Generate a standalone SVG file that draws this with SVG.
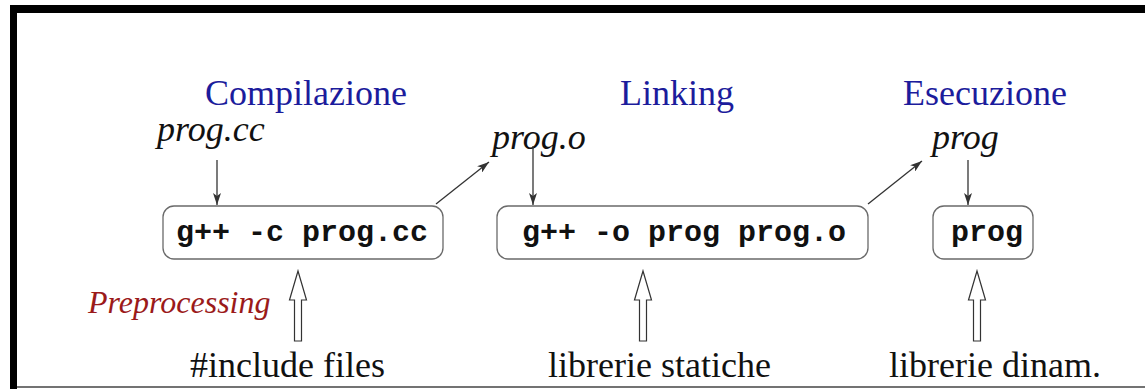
<svg xmlns="http://www.w3.org/2000/svg" width="1145" height="389" viewBox="0 0 1145 389">
<style>
.title{font-family:"Liberation Serif",serif;font-size:36px;fill:#1c1c9c}
.file{font-family:"Liberation Serif",serif;font-style:italic;font-size:36px;fill:#111}
.cmd{font-family:"Liberation Mono",monospace;font-weight:bold;font-size:30px;fill:#111}
.lbl{font-family:"Liberation Serif",serif;font-size:36px;fill:#111}
.pre{font-family:"Liberation Serif",serif;font-style:italic;font-size:32px;fill:#9b1a1a}
.box{fill:#fff;stroke:#6a6a6a;stroke-width:1.3}
.thin{stroke:#333;stroke-width:1.3;fill:none;marker-end:url(#ah)}
.hollow{fill:#fff;stroke:#333;stroke-width:1.2}
</style>
<defs>
<marker id="ah" viewBox="0 0 12 8" refX="12" refY="4" markerWidth="12" markerHeight="8" markerUnits="userSpaceOnUse" orient="auto">
<path d="M0,0 L12,4 L0,8 L3,4 Z" fill="#333"/>
</marker>
</defs>
<rect width="1145" height="389" fill="#fff"/>
<g id="frame">
<rect x="10" y="5" width="1135" height="8" fill="#000"/>
<rect x="10" y="5" width="7" height="384" fill="#000"/>
<line x1="17" y1="387" x2="1145" y2="387" stroke="#444" stroke-width="1.5"/>
</g>
<g id="titles">
<text class="title" x="205" y="105">Compilazione</text>
<text class="title" x="620" y="105">Linking</text>
<text class="title" x="903" y="105">Esecuzione</text>
</g>
<g id="file-prog-cc"><text class="file" x="157" y="141">prog.cc</text></g>
<g id="file-prog-o"><text class="file" x="492" y="149">prog.o</text></g>
<g id="file-prog"><text class="file" x="932" y="149">prog</text></g>
<g id="box-compile">
<rect class="box" x="163" y="206" width="280" height="53" rx="11"/>
<text class="cmd" x="176" y="241">g++ -c prog.cc</text>
</g>
<g id="box-link">
<rect class="box" x="497" y="206" width="371" height="53" rx="11"/>
<text class="cmd" x="522" y="241">g++ -o prog prog.o</text>
</g>
<g id="box-exec">
<rect class="box" x="933" y="206" width="100" height="53" rx="11"/>
<text class="cmd" x="951" y="241">prog</text>
</g>
<g id="connectors">
<line class="thin" x1="217" y1="160" x2="217" y2="205"/>
<line class="thin" x1="533" y1="146" x2="533" y2="205"/>
<line class="thin" x1="968" y1="160" x2="968" y2="205"/>
<line class="thin" x1="436" y1="204" x2="489" y2="162"/>
<line class="thin" x1="868" y1="204" x2="922" y2="161"/>
<path class="hollow" d="M298,271 L306.5,300 L301.5,300 L301.5,341 L294.5,341 L294.5,300 L289.5,300 Z"/>
<path class="hollow" d="M643,271 L651.5,300 L646.5,300 L646.5,341 L639.5,341 L639.5,300 L634.5,300 Z"/>
<path class="hollow" d="M977,271 L985.5,300 L980.5,300 L980.5,341 L973.5,341 L973.5,300 L968.5,300 Z"/>
</g>
<g id="labels">
<text class="pre" x="88" y="313">Preprocessing</text>
<text class="lbl" x="190" y="377">#include files</text>
<text class="lbl" x="548" y="377">librerie statiche</text>
<text class="lbl" x="889" y="377">librerie dinam.</text>
</g>
</svg>
